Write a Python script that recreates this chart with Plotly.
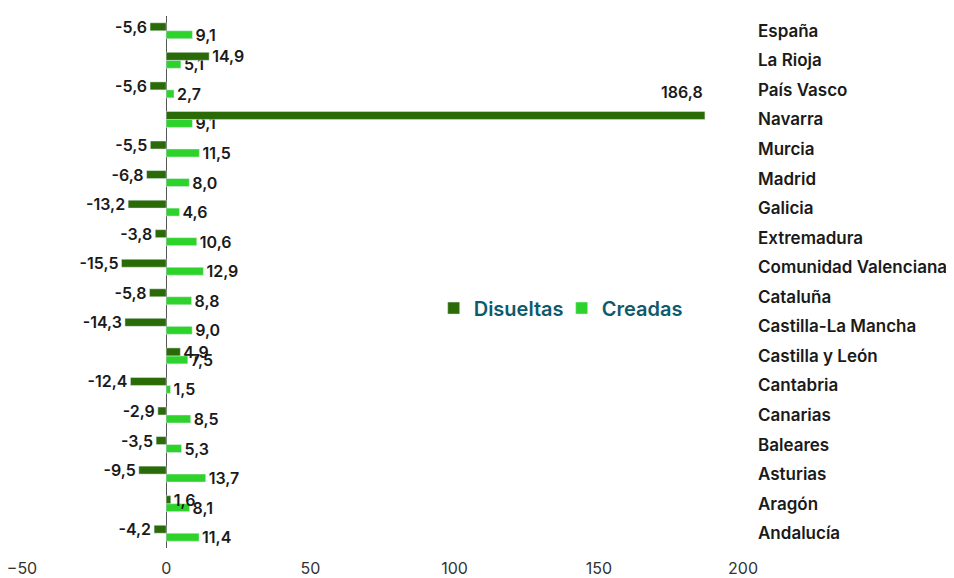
import plotly.graph_objects as go

categories = ["España", "La Rioja", "País Vasco", "Navarra", "Murcia", "Madrid", "Galicia",
              "Extremadura", "Comunidad Valenciana", "Cataluña", "Castilla-La Mancha",
              "Castilla y León", "Cantabria", "Canarias", "Baleares", "Asturias", "Aragón", "Andalucía"]
disueltas = [-5.6, 14.9, -5.6, 186.8, -5.5, -6.8, -13.2, -3.8, -15.5, -5.8, -14.3, 4.9, -12.4, -2.9, -3.5, -9.5, 1.6, -4.2]
creadas = [9.1, 5.1, 2.7, 9.1, 11.5, 8.0, 4.6, 10.6, 12.9, 8.8, 9.0, 7.5, 1.5, 8.5, 5.3, 13.7, 8.1, 11.4]
x_ticks = [-50, 0, 50, 100, 150, 200]

DARK = "#2A6A07"
LIGHT = "#2DD32A"
FONT = "Inter"
LABEL_FONT = dict(family=FONT, size=16, color="#1a1a1a", weight=600)

max_i = disueltas.index(max(disueltas))
dis_pos = ["none" if i == max_i else "outside" for i in range(len(disueltas))]

fig = go.Figure()
fig.add_trace(go.Bar(
    y=categories, x=creadas, orientation="h", name="Creadas",
    marker_color=LIGHT, texttemplate="%{x:.1f}", textposition="outside",
    textfont=LABEL_FONT, constraintext="none", cliponaxis=False, legendrank=2,
))
fig.add_trace(go.Bar(
    y=categories, x=disueltas, orientation="h", name="Disueltas",
    marker_color=DARK, texttemplate="%{x:.1f}", textposition=dis_pos,
    textfont=LABEL_FONT, constraintext="none", cliponaxis=False, legendrank=1,
))
fig.add_annotation(
    x=disueltas[max_i], y=categories[max_i], text=f"{disueltas[max_i]:.1f}".replace(".", ","),
    xanchor="right", yshift=27, showarrow=False, font=LABEL_FONT,
)

fig.update_layout(
    width=946, height=570,
    margin=dict(l=14, r=211, t=8, b=30),
    paper_bgcolor="white", plot_bgcolor="white",
    barmode="group", bargap=0.46, bargroupgap=0,
    separators=",.",
    font=dict(family=FONT),
    showlegend=True,
    legend=dict(orientation="h", x=0.571, y=0.451, xanchor="left", yanchor="middle",
                font=dict(family=FONT, size=20, color="#0E5A6C", weight=600),
                bgcolor="rgba(0,0,0,0)", entrywidth=83, entrywidthmode="pixels"),
    xaxis=dict(range=[-50, 200], tickvals=x_ticks, showgrid=False, automargin=False,
               zeroline=True, zerolinecolor="#555555", zerolinewidth=1,
               showline=False, ticks="", ticklabelstandoff=9, ticklabeloverflow="allow",
               tickfont=dict(family=FONT, size=16, color="#333333")),
    yaxis=dict(categoryorder="array", categoryarray=categories[::-1], side="right",
               showgrid=False, showline=False, ticks="", ticklabelstandoff=14, automargin=False,
               tickfont=dict(family=FONT, size=17, color="#1a1a1a", weight=600)),
)

fig.write_html("out.html")
